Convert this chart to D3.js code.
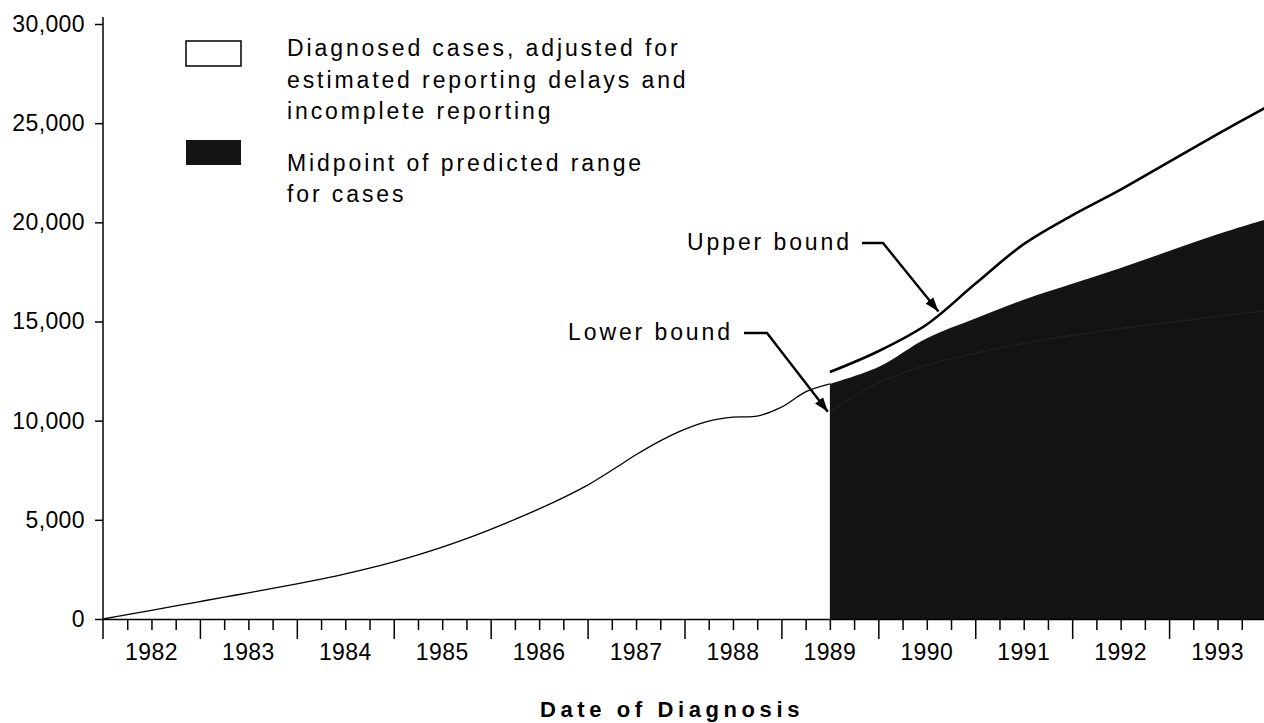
<!DOCTYPE html>
<html>
<head>
<meta charset="utf-8">
<script src="https://cdn.jsdelivr.net/npm/d3@7"></script>
<style>
  body { margin: 0; background: #fff; }
  svg { display: block; font-family: "Liberation Sans", Arial, sans-serif; }
  .tick text { font-size: 23px; fill: #000; }
  .tick line, .domain { stroke: #000; stroke-width: 1.5; }
  .note { font-size: 23px; letter-spacing: 2.9px; fill: #000; }
</style>
</head>
<body>
<svg id="chart" width="1264" height="723"></svg>
<script>
// reported (adjusted) diagnoses, quarterly
var actualYears = [1982, 1982.25, 1982.5, 1982.75, 1983, 1983.25, 1983.5, 1983.75, 1984, 1984.25, 1984.5, 1984.75,
    1985, 1985.25, 1985.5, 1985.75, 1986, 1986.25, 1986.5, 1986.75, 1987, 1987.25, 1987.5, 1987.75,
    1988, 1988.25, 1988.5, 1988.75, 1989, 1989.25, 1989.5];
var actualCases = [0, 220, 440, 660, 880, 1100, 1320, 1540, 1770, 2010, 2270, 2560,
    2880, 3230, 3620, 4050, 4520, 5020, 5550, 6120, 6750, 7500, 8280, 8980,
    9560, 9980, 10180, 10230, 10680, 11450, 11850];

// projections, half-yearly
var projYears = [1989.5, 1990, 1990.5, 1991, 1991.5, 1992, 1992.5, 1993, 1993.5, 1994];
var midpointCases = [11850, 12700, 14150, 15150, 16100, 16900, 17700, 18550, 19400, 20150];
var upperBound = [12450, 13500, 14850, 16900, 18900, 20350, 21650, 23050, 24450, 25800];
var lowerBound = [10450, 11900, 12800, 13400, 13900, 14300, 14650, 14950, 15250, 15550];

var yTicks = [0, 5000, 10000, 15000, 20000, 25000, 30000];
var yearLabels = [1982, 1983, 1984, 1985, 1986, 1987, 1988, 1989, 1990, 1991, 1992, 1993];

var svg = d3.select("#chart");

var x = d3.scaleLinear().domain([1982, 1994]).range([103, 1266]);
var y = d3.scaleLinear().domain([0, 30000]).range([619, 24]);

var smooth = d3.curveCatmullRom.alpha(0.5);

// projected midpoint area
var area = d3.area()
    .x(function(d, i) { return x(projYears[i]); })
    .y0(y(0))
    .y1(function(d) { return y(d); })
    .curve(smooth);

svg.append("path")
    .datum(midpointCases)
    .attr("d", area)
    .attr("fill", "#141414");

var line = function(years) {
    return d3.line()
        .x(function(d, i) { return x(years[i]); })
        .y(function(d) { return y(d); })
        .curve(smooth);
};

// lower bound barely shows inside the dark area
svg.append("path")
    .datum(lowerBound)
    .attr("d", line(projYears))
    .attr("fill", "none")
    .attr("stroke", "#242424")
    .attr("stroke-width", 1);

svg.append("path")
    .datum(upperBound)
    .attr("d", line(projYears))
    .attr("fill", "none")
    .attr("stroke", "#000")
    .attr("stroke-width", 2.6);

svg.append("path")
    .datum(actualCases)
    .attr("d", line(actualYears))
    .attr("fill", "none")
    .attr("stroke", "#000")
    .attr("stroke-width", 1.3);

// y axis
var yAxis = d3.axisLeft(y)
    .tickValues(yTicks)
    .tickSize(8)
    .tickPadding(10)
    .tickFormat(d3.format(","));

var yg = svg.append("g")
    .attr("class", "y axis")
    .attr("transform", "translate(" + x(1982) + ",0)")
    .call(yAxis);
yg.select(".domain").remove();
yg.selectAll(".tick text").attr("letter-spacing", "0.4px");

svg.append("line")
    .attr("x1", x(1982)).attr("x2", x(1982))
    .attr("y1", 17).attr("y2", 639)
    .attr("stroke", "#000").attr("stroke-width", 1.5);

// x axis: quarter ticks, longer ticks on years
var quarters = d3.range(1982.25, 1994, 0.25);
var xAxis = d3.axisBottom(x)
    .tickValues(quarters)
    .tickSize(11)
    .tickSizeOuter(0)
    .tickFormat("");

var xg = svg.append("g")
    .attr("class", "x axis")
    .attr("transform", "translate(0," + y(0) + ")")
    .call(xAxis);
xg.selectAll(".tick line")
    .attr("y2", function(d) { return Math.abs(d - Math.round(d)) < 1e-6 ? 20 : 11; });

xg.selectAll(".year")
    .data(yearLabels)
    .enter().append("text")
    .attr("class", "year")
    .attr("x", function(d) { return x(d + 0.5); })
    .attr("y", 41)
    .attr("text-anchor", "middle")
    .attr("fill", "#000")
    .attr("font-size", 23)
    .attr("letter-spacing", "0.4px")
    .text(function(d) { return d; });

svg.append("text")
    .attr("x", 672)
    .attr("y", 717)
    .attr("text-anchor", "middle")
    .attr("font-size", 22)
    .attr("font-weight", "bold")
    .attr("letter-spacing", "4.6px")
    .text("Date of Diagnosis");

// legend
svg.append("rect")
    .attr("x", 186).attr("y", 41).attr("width", 55).attr("height", 25)
    .attr("fill", "#fff").attr("stroke", "#000").attr("stroke-width", 1.5);
svg.append("rect")
    .attr("x", 186).attr("y", 140).attr("width", 55).attr("height", 25)
    .attr("fill", "#141414");

var legendLines = [
    ["Diagnosed cases, adjusted for", 56],
    ["estimated reporting delays and", 88],
    ["incomplete reporting", 119],
    ["Midpoint of predicted range", 171],
    ["for cases", 202]
];
svg.selectAll(".legend")
    .data(legendLines)
    .enter().append("text")
    .attr("class", "note")
    .attr("x", 287)
    .attr("y", function(d) { return d[1]; })
    .text(function(d) { return d[0]; });

// callouts
svg.append("defs").append("marker")
    .attr("id", "head")
    .attr("viewBox", "0 0 10 10")
    .attr("refX", 10).attr("refY", 5)
    .attr("markerWidth", 6).attr("markerHeight", 6)
    .attr("markerUnits", "strokeWidth")
    .attr("orient", "auto")
    .append("path")
    .attr("d", "M0,1.5L10,5L0,8.5Z")
    .attr("fill", "#000");

svg.append("text").attr("class", "note").attr("x", 687).attr("y", 250).text("Upper bound");
svg.append("path")
    .attr("d", "M862,243L883,243L" + x(1990.62) + "," + (y(upperBound[2] + 700) + 1))
    .attr("fill", "none").attr("stroke", "#000").attr("stroke-width", 2.4)
    .attr("marker-end", "url(#head)");

svg.append("text").attr("class", "note").attr("x", 568).attr("y", 340).text("Lower bound");
svg.append("path")
    .attr("d", "M744,333L767,333L" + (x(1989.5) - 2) + "," + y(lowerBound[0]))
    .attr("fill", "none").attr("stroke", "#000").attr("stroke-width", 2.4)
    .attr("marker-end", "url(#head)");
</script>
</body>
</html>
